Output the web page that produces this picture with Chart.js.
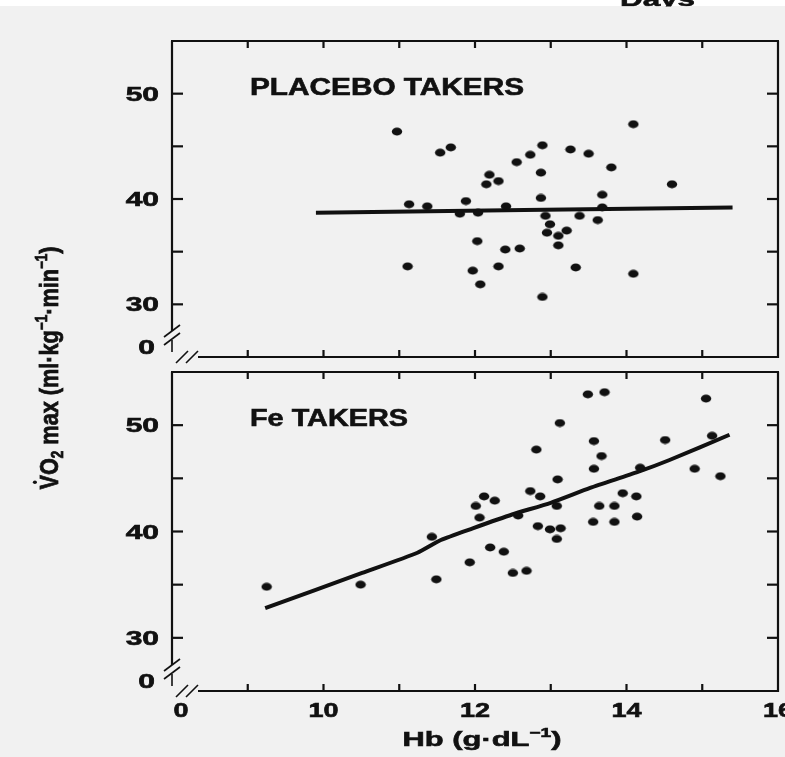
<!DOCTYPE html>
<html>
<head>
<meta charset="utf-8">
<script src="https://cdn.jsdelivr.net/npm/chart.js@4.4.0/dist/chart.umd.min.js"></script>
<style>
  html, body { margin: 0; padding: 0; background: #f1f1f1; }
  #wrap { position: relative; width: 785px; height: 757px; overflow: hidden; }
  #wrap canvas { position: absolute; left: 0; top: 0; }
</style>
</head>
<body>
<div id="wrap">
  <canvas id="placebo" width="785" height="757"></canvas>
  <canvas id="iron" width="785" height="757"></canvas>
</div>
<script>
// Hb (g/dL) vs VO2 max, placebo group
const placeboHb = [10.97, 11.11, 11.13, 11.37, 11.54, 11.68, 11.80, 11.88, 12.04, 12.03, 11.97, 12.07, 12.15, 12.19,
  12.31, 12.31, 12.41, 12.40, 12.55, 12.59, 12.73, 12.87, 12.87, 12.89, 12.89, 12.93, 12.99, 12.95,
  13.10, 13.10, 13.21, 13.26, 13.33, 13.38, 13.50, 13.62, 13.68, 13.68, 13.80, 14.09, 14.09, 14.60];
const placeboVO2 = [46.4, 33.6, 39.5, 39.3, 44.4, 44.9, 38.6, 39.8, 38.7, 36.0, 33.2, 31.9, 41.4, 42.3,
  41.7, 33.6, 39.3, 35.2, 43.5, 35.3, 44.2, 40.1, 42.5, 45.1, 30.7, 38.4, 37.6, 36.8,
  36.5, 35.6, 37.0, 44.7, 33.5, 38.4, 44.3, 38.0, 40.4, 39.2, 43.0, 47.1, 32.9, 41.4];
const placeboFitHb = [9.9, 15.4];
const placeboFitVO2 = [38.7, 39.2];

// iron group
const feHb = [9.25, 10.49, 11.43, 11.49, 11.93, 12.01, 12.06, 12.12, 12.26, 12.20, 12.38, 12.50, 12.57, 12.68,
  12.73, 12.81, 12.86, 12.83, 12.99, 13.08, 13.09, 13.08, 13.13, 13.12, 13.49, 13.71, 13.57, 13.67,
  13.57, 13.64, 13.56, 13.84, 13.84, 13.95, 14.13, 14.14, 14.18, 14.51, 14.90, 15.05, 15.13, 15.24];
const feVO2 = [34.8, 35.0, 39.5, 35.5, 37.1, 42.4, 41.3, 43.3, 42.9, 38.5, 38.1, 36.1, 41.5, 36.3,
  43.8, 47.7, 43.3, 40.5, 40.2, 42.4, 44.9, 39.3, 40.3, 50.2, 52.9, 53.1, 48.5, 47.1,
  45.9, 42.4, 40.9, 42.4, 40.9, 43.6, 43.3, 41.4, 46.0, 48.6, 45.9, 52.5, 49.0, 45.2];
const feFitHb = [9.23, 10.51, 11.24, 11.55, 11.97, 12.49, 13.0, 13.52, 14.15, 14.56, 15.36];
const feFitVO2 = [32.8, 36.1, 38.0, 39.2, 40.3, 41.6, 42.7, 44.1, 45.6, 46.7, 49.1];

// axes
const xTicks = [9, 10, 11, 12, 13, 14, 15];
const yTicks = [30, 35, 40, 45, 50];
const xLabels = [10, 12, 14, 16];
const yLabels = [30, 40, 50];

const ink = '#111111';
const FONT = '"Liberation Sans", Arial, sans-serif';

// slightly flattened dot, like the printed markers
const dot = document.createElement('canvas');
dot.width = 12; dot.height = 9;
const dctx = dot.getContext('2d');
dctx.fillStyle = ink;
dctx.beginPath();
dctx.ellipse(6, 4.5, 5.2, 3.9, 0, 0, Math.PI * 2);
dctx.fill();

function fontFor(r, size) {
  const s = (r.sup || r.sub) ? size * 0.62 : size;
  return 'bold ' + s + 'px ' + FONT;
}
function runsWidth(ctx, runs, size) {
  let w = 0;
  runs.forEach(r => { ctx.font = fontFor(r, size); w += ctx.measureText(r.t).width; });
  return w;
}
// draws text runs at the current origin, baseline at y=0, stretched by sx/sy
function drawRuns(ctx, runs, size, sx, sy, align) {
  const w = runsWidth(ctx, runs, size);
  let cx = align === 'center' ? -w / 2 : align === 'right' ? -w : 0;
  ctx.save();
  ctx.scale(sx, sy);
  ctx.fillStyle = ink;
  ctx.strokeStyle = ink;
  ctx.lineWidth = 0.6;
  ctx.textAlign = 'left';
  ctx.textBaseline = 'alphabetic';
  runs.forEach(r => {
    ctx.font = fontFor(r, size);
    const dy = r.sup ? -size * 0.42 : r.sub ? size * 0.2 : 0;
    const tw = ctx.measureText(r.t).width;
    ctx.fillText(r.t, cx, dy);
    ctx.strokeText(r.t, cx, dy);
    if (r.dot) {
      ctx.beginPath();
      ctx.arc(cx + tw / 2, -size * 0.9, size * 0.08, 0, Math.PI * 2);
      ctx.fill();
    }
    cx += tw;
  });
  ctx.restore();
}
function fitRuns(ctx, runs, x, y, size, width, sy, align) {
  const sx = width / runsWidth(ctx, runs, size);
  ctx.save();
  ctx.translate(x, y);
  drawRuns(ctx, runs, size, sx, sy, align);
  ctx.restore();
}

function seg(ctx, x1, y1, x2, y2) {
  ctx.beginPath(); ctx.moveTo(x1, y1); ctx.lineTo(x2, y2); ctx.stroke();
}

// box with inward ticks, broken lower-left corner and the panel's labels
const frame = {
  id: 'frame',
  afterDatasetsDraw(chart, args, opts) {
    const { ctx, chartArea: { left, top, right, bottom }, scales: { x, y } } = chart;
    ctx.save();
    ctx.strokeStyle = ink;
    ctx.lineWidth = 2.2;
    seg(ctx, left - 1, top, right + 1, top);
    seg(ctx, right, top, right, bottom + 1);
    seg(ctx, left, top, left, bottom - 26);
    seg(ctx, left + 26, bottom, right + 1, bottom);
    // axis breaks
    ctx.lineWidth = 1.6;
    seg(ctx, left - 8, bottom - 20, left + 8, bottom - 32);
    seg(ctx, left - 8, bottom - 12, left + 8, bottom - 24);
    seg(ctx, left, bottom - 17, left, bottom - 5);
    seg(ctx, left + 4, bottom + 6, left + 16, bottom - 6);
    seg(ctx, left + 14, bottom + 6, left + 26, bottom - 6);
    ctx.lineWidth = 2.2;
    xTicks.forEach(v => {
      const px = x.getPixelForValue(v);
      seg(ctx, px, top, px, top + 7);
      seg(ctx, px, bottom, px, bottom - 7);
    });
    yTicks.forEach(v => {
      const py = y.getPixelForValue(v);
      seg(ctx, left, py, left + 11, py);
      seg(ctx, right, py, right - 11, py);
    });
    ctx.restore();

    yLabels.forEach(v => {
      ctx.save();
      ctx.translate(left - 13, y.getPixelForValue(v) + 7);
      drawRuns(ctx, [{ t: String(v) }], 20, 1.5, 1, 'right');
      ctx.restore();
    });
    ctx.save();
    ctx.translate(left - 17, bottom - 3);
    drawRuns(ctx, [{ t: '0' }], 20, 1.5, 1, 'right');
    ctx.restore();

    fitRuns(ctx, [{ t: opts.title }], left + 78, top + 54, 23, opts.titleWidth, 1, 'left');

    if (opts.xAxis) {
      xLabels.forEach(v => {
        ctx.save();
        ctx.translate(x.getPixelForValue(v), bottom + 26);
        drawRuns(ctx, [{ t: String(v) }], 20, 1.35, 1, 'center');
        ctx.restore();
      });
      ctx.save();
      ctx.translate(left + 9, bottom + 26);
      drawRuns(ctx, [{ t: '0' }], 20, 1.35, 1, 'center');
      ctx.restore();
      fitRuns(ctx, [{ t: 'Hb (g\u00b7dL' }, { t: '\u22121', sup: true }, { t: ')' }],
        482, bottom + 55, 21, 159, 1, 'center');
    }
  }
};

// page furniture: white strip with the cut-off heading, shared y title
const page = {
  id: 'page',
  beforeDraw(chart) {
    const { ctx } = chart;
    ctx.save();
    ctx.fillStyle = '#ffffff';
    ctx.fillRect(0, 0, 785, 6);
    ctx.beginPath();
    ctx.rect(0, 0, 785, 6.5);
    ctx.clip();
    fitRuns(ctx, [{ t: 'Days' }], 620, 6, 21, 75, 1, 'left');
    ctx.restore();

    ctx.save();
    ctx.translate(58, 368);
    ctx.rotate(-Math.PI / 2);
    const runs = [{ t: 'V', dot: true }, { t: 'O' }, { t: '2', sub: true }, { t: ' max (ml\u00b7kg' },
      { t: '\u22121', sup: true }, { t: '\u00b7min' }, { t: '\u22121', sup: true }, { t: ')' }];
    const sx = 243 / runsWidth(ctx, runs, 19);
    drawRuns(ctx, runs, 19, sx, 1.35, 'center');
    ctx.restore();
  }
};

function panel(hb, vo2, fitHb, fitVo2, padTop, padBottom, frameOpts, extra) {
  return {
    type: 'scatter',
    data: {
      datasets: [
        {
          data: hb.map((v, i) => ({ x: v, y: vo2[i] })),
          pointStyle: dot,
          pointRadius: 6
        },
        {
          data: fitHb.map((v, i) => ({ x: v, y: fitVo2[i] })),
          showLine: true,
          borderColor: ink,
          borderWidth: 4,
          pointRadius: 0,
          tension: 0.2
        }
      ]
    },
    options: {
      responsive: false,
      animation: false,
      events: [],
      layout: { padding: { left: 172, right: 7, top: padTop, bottom: padBottom } },
      scales: {
        x: { type: 'linear', min: 8, max: 16, display: false },
        y: { type: 'linear', min: 25, max: 55, display: false }
      },
      plugins: {
        legend: { display: false },
        tooltip: { enabled: false },
        frame: frameOpts
      }
    },
    plugins: [frame].concat(extra)
  };
}

new Chart(document.getElementById('placebo'),
  panel(placeboHb, placeboVO2, placeboFitHb, placeboFitVO2, 41, 400,
    { title: 'PLACEBO TAKERS', titleWidth: 274, xAxis: false }, [page]));

new Chart(document.getElementById('iron'),
  panel(feHb, feVO2, feFitHb, feFitVO2, 372, 66,
    { title: 'Fe TAKERS', titleWidth: 158, xAxis: true }, []));
</script>
</body>
</html>
